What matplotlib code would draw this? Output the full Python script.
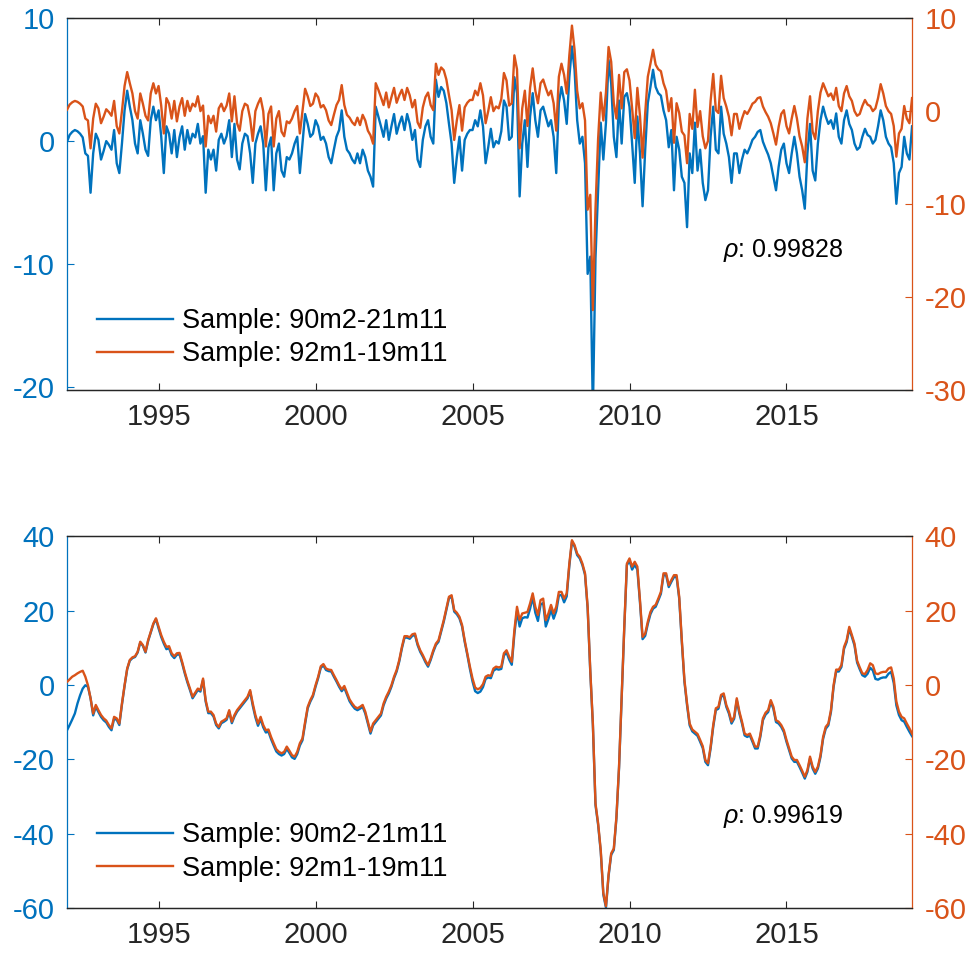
import numpy as np
import matplotlib
matplotlib.use("Agg")
import matplotlib.pyplot as plt

plt.rcParams["font.family"] = ["Liberation Sans", "DejaVu Sans"]
plt.rcParams["mathtext.fontset"] = "custom"
plt.rcParams["mathtext.it"] = "Liberation Sans:italic"
plt.rcParams["mathtext.rm"] = "Liberation Sans"
plt.rcParams["axes.unicode_minus"] = False

BLUE = "#0072BD"
ORANGE = "#D95319"
DARK = "#262626"

# monthly, 1992m2 .. 2019m1
dates = 1992 + np.arange(1, 325) / 12

label_a = "Sample: 90m2-21m11"
label_b = "Sample: 92m1-19m11"
rho_top = 0.99828
rho_bottom = 0.99619

# top panel, blue (left axis)
top_a = [
    -0.05, 0.5, 0.75, 0.9, 0.8, 0.6, 0.3, -1.0, -1.2, -4.2, -1.0, 0.6,
    0.1, -1.5, -0.8, 0.0, -0.3, -0.7, 0.9, -1.8, -2.6, -0.2, 2.5, 4.1,
    2.8, 1.7, -0.2, -1.0, 1.7, 0.6, -0.7, -1.2, 1.7, 2.8, 1.7, 2.5,
    0.4, -2.6, 1.2, 0.6, -1.0, 0.9, -1.3, 0.3, 1.2, -0.7, 0.9, -0.2,
    0.6, 0.3, 1.4, -0.2, 0.4, -4.2, -0.7, -1.5, -0.7, -2.4, 0.1, 0.6,
    -0.2, 0.4, 1.7, -1.3, 1.4, -1.5, -2.3, -0.2, 0.6, 0.4, -1.0, -3.4,
    -0.2, 0.6, 1.2, -0.2, -4.0, -0.5, 0.3, -4.0, -1.0, -0.2, -2.4, -2.9,
    -1.3, -1.5, -1.0, -0.2, 0.35, -2.6, -0.2, 2.2, 1.4, 0.35, 0.6, 1.7,
    1.2, 0.1, 0.35, -0.2, -1.3, -1.8, -0.7, 0.35, 0.9, 2.5, 0.35, -0.7,
    -1.0, -1.5, -1.8, -1.0, -1.8, -0.7, -1.3, -2.4, -2.9, -3.7, 2.8, 2.0,
    1.2, 0.35, 1.7, 0.1, 1.2, 2.2, 0.6, 1.4, 2.0, 0.9, 2.2, 1.4,
    0.1, 0.9, -1.5, -2.1, 0.1, 1.2, 1.7, 0.35, -0.2, 5.0, 3.6, 4.4,
    4.1, 3.1, 1.4, -0.2, -3.4, -1.3, 0.35, -2.4, 0.1, 0.6, 0.9, 0.9,
    1.7, 1.2, 2.5, 1.2, -1.8, -0.5, 1.0, -0.5, 0.0, -0.2, 0.8, 3.3,
    2.8, 0.1, 0.35, 5.2, 3.9, -4.5, -0.2, 1.7, -2.1, 2.0, 3.9, 1.7,
    0.35, 2.5, 2.8, 2.0, 1.2, 1.7, 0.35, -2.6, 3.1, 4.4, 3.3, 1.4,
    5.2, 7.7, 5.8, 1.7, -0.2, 0.35, -1.8, -10.8, -9.4, -22.0, -9.5, -4.0,
    1.5, -1.5, 1.5, 6.6, 4.7, 0.35, -1.3, 3.3, -0.2, 3.6, 3.9, 2.8,
    -0.2, -3.4, 2.0, -1.0, -5.3, -0.7, 3.1, 4.4, 5.8, 4.4, 3.9, 3.7,
    2.5, 1.7, -0.5, 0.9, -4.0, 0.35, -0.7, -2.9, -3.4, -7.0, -1.0, -2.6,
    1.5, -2.4, -0.7, -3.4, -4.8, -4.0, 0.35, 2.8, -0.7, -1.0, 2.8, 0.6,
    -0.2, -1.3, -3.4, -1.0, -1.0, -2.6, -1.5, -0.7, -1.0, -0.5, 0.1, 0.35,
    0.75, 0.9, -0.05, -0.6, -1.1, -1.8, -2.9, -4.0, -2.1, -0.7, -0.2, -1.8,
    -2.6, -1.0, 0.35, -1.0, -2.9, -4.0, -5.5, -1.0, 1.4, -2.4, -3.2, -0.2,
    1.7, 2.8, 2.0, 1.4, 1.7, 1.0, 2.25, 0.35, -0.2, 1.7, 2.5, 1.4,
    0.9, -0.2, -0.7, -0.5, 0.35, 1.0, 0.5, 0.35, -0.2, 0.1, 1.2, 2.5,
    1.7, 0.35, -0.2, -0.5, -1.8, -5.1, -2.6, -2.1, 0.35, -1.0, -1.5, 1.2,
]

# top panel, orange (right axis)
top_b = [
    0.15, 0.7, 0.95, 1.1, 1.0, 0.8, 0.5, -0.8, -1.0, -4.0, -0.8, 0.8,
    0.3, -1.3, -0.6, 0.2, -0.1, -0.5, 1.1, -1.6, -2.4, 0.0, 2.7, 4.2,
    3.0, 1.9, 0.0, -0.8, 1.9, 0.8, -0.5, -1.0, 1.9, 3.0, 1.9, 2.7,
    0.6, -2.4, 1.4, 0.8, -0.8, 1.1, -1.1, 0.5, 1.4, -0.5, 1.1, 0.0,
    0.8, 0.5, 1.6, 0.0, 0.6, -3.8, -0.5, -1.3, -0.5, -2.2, 0.3, 0.8,
    0.0, 0.6, 1.9, -1.1, 1.6, -1.3, -2.1, 0.0, 0.8, 0.6, -0.8, -3.2,
    0.0, 0.8, 1.4, 0.0, -3.8, -0.3, 0.5, -3.8, -0.8, 0.0, -2.2, -2.7,
    -1.1, -1.3, -0.8, 0.0, 0.55, -2.4, 0.0, 2.4, 1.6, 0.55, 0.8, 1.9,
    1.5, 0.4, 0.65, 0.1, -1.0, -1.5, -0.4, 0.65, 1.2, 2.8, 0.65, -0.4,
    -0.7, -1.2, -1.5, -0.7, -1.5, -0.4, -1.0, -2.1, -2.6, -3.5, 3.0, 2.3,
    1.5, 0.65, 2.0, 0.4, 1.5, 2.5, 0.9, 1.7, 2.3, 1.2, 2.5, 1.7,
    0.4, 1.2, -1.2, -1.8, 0.4, 1.5, 2.0, 0.65, 0.1, 5.1, 3.9, 4.7,
    4.4, 3.4, 1.7, 0.1, -3.1, -1.0, 0.65, -2.1, 0.4, 0.9, 1.2, 1.2,
    2.2, 1.7, 3.0, 1.7, -1.3, 0.0, 1.5, 0.0, 0.5, 0.3, 1.3, 4.1,
    3.3, 0.6, 0.85, 6.0, 4.5, -4.0, 0.3, 2.2, -1.6, 2.5, 4.6, 2.2,
    0.85, 3.0, 3.4, 2.5, 1.7, 2.2, 0.85, -2.1, 3.7, 5.1, 3.9, 1.9,
    6.0, 9.2, 6.6, 2.2, 0.3, 0.85, -1.0, -10.6, -9.0, -21.4, -10.5, -3.0,
    2.0, -1.0, 2.0, 6.9, 5.3, 0.85, -0.8, 3.9, 0.3, 4.2, 4.5, 3.3,
    0.3, -2.9, 2.5, -0.5, -5.0, -0.2, 3.7, 5.1, 6.6, 5.0, 4.5, 4.3,
    3.0, 2.2, 0.0, 1.4, -3.4, 0.85, -0.2, -2.2, -2.6, -5.6, -0.3, -1.9,
    2.3, -1.7, 0.0, -2.7, -4.0, -3.2, 1.1, 4.0, 0.1, -0.2, 3.8, 1.4,
    0.5, -0.6, -2.6, -0.3, -0.3, -1.9, -0.8, 0.0, -0.3, 0.2, 0.8, 1.0,
    1.4, 1.5, 0.5, -0.1, -0.6, -1.3, -2.4, -3.6, -1.7, -0.3, 0.1, -1.6,
    -2.4, -0.8, 0.55, -0.8, -2.7, -3.8, -5.5, -0.8, 1.6, -2.2, -3.0, 0.0,
    2.0, 3.0, 2.3, 1.6, 1.9, 1.2, 2.5, 0.55, 0.0, 1.9, 2.7, 1.6,
    1.1, 0.0, -0.5, -0.3, 0.55, 1.2, 0.7, 0.55, 0.0, 0.3, 1.4, 2.9,
    1.9, 0.55, 0.0, -0.3, -1.6, -4.9, -2.4, -1.9, 0.55, -0.8, -1.3, 1.4,
]

# bottom panel, blue (left axis)
bottom_a = [
    -12.2, -10.8, -9.3, -7.7, -5.0, -2.8, -1.0, -0.1, -0.5, -3.6, -8.2, -5.9,
    -7.3, -8.6, -9.5, -10.1, -11.3, -12.2, -9.1, -9.4, -10.8, -5.3, -0.3, 4.2,
    6.5, 7.2, 7.5, 8.7, 11.4, 10.5, 8.7, 11.8, 14.1, 16.3, 17.7, 15.2,
    12.9, 11.1, 9.6, 9.9, 8.0, 7.2, 8.1, 8.2, 5.8, 3.1, 0.7, -1.4,
    -3.6, -2.5, -1.4, -1.8, 1.3, -4.5, -7.6, -7.6, -8.5, -10.8, -11.7, -10.3,
    -9.9, -9.4, -7.2, -10.3, -8.5, -7.2, -6.3, -5.4, -4.5, -3.6, -1.8, -5.6,
    -8.7, -11.0, -9.2, -11.4, -12.8, -12.6, -14.6, -16.3, -17.9, -18.6, -19.0, -18.6,
    -17.2, -18.3, -19.5, -19.9, -18.6, -16.3, -14.9, -10.5, -6.3, -4.5, -3.1, -0.5,
    1.8, 4.6, 5.2, 4.0, 3.7, 3.6, 2.2, 0.9, -0.5, -1.7, -0.8, -2.6,
    -4.4, -5.5, -6.4, -6.8, -6.4, -5.9, -7.7, -10.4, -13.1, -10.9, -10.0, -9.1,
    -8.2, -5.5, -3.7, -2.3, -0.5, 1.8, 3.6, 6.3, 9.8, 12.7, 12.7, 12.4,
    13.2, 13.4, 10.7, 8.9, 7.6, 6.1, 4.9, 6.7, 8.9, 10.7, 11.6, 14.3,
    17.0, 20.1, 23.3, 23.7, 19.7, 19.0, 17.9, 15.7, 11.6, 8.1, 4.3, 0.9,
    -1.7, -2.2, -1.8, -0.6, 1.6, 2.0, 1.8, 3.8, 4.3, 4.1, 4.3, 7.9,
    8.7, 6.8, 5.4, 13.7, 19.8, 15.7, 17.9, 18.2, 18.1, 20.5, 23.6, 19.4,
    17.2, 21.6, 22.0, 15.7, 17.7, 20.2, 17.8, 19.8, 24.0, 24.2, 22.2, 23.8,
    32.0, 38.5, 37.2, 34.9, 34.0, 32.2, 29.6, 20.6, 3.6, -10.8, -32.3, -37.6,
    -44.8, -56.4, -59.9, -51.4, -45.7, -44.4, -35.9, -22.4, -3.6, 15.2, 32.2, 33.4,
    31.0, 32.3, 31.0, 22.2, 12.3, 13.2, 16.4, 19.0, 20.5, 21.0, 22.7, 24.5,
    29.5, 29.5, 26.3, 27.7, 29.0, 29.0, 23.2, 11.5, 0.8, -5.5, -10.9, -12.5,
    -13.1, -13.7, -15.3, -17.0, -20.7, -21.6, -17.1, -11.3, -6.8, -6.4, -3.2, -2.8,
    -5.9, -7.7, -10.4, -9.1, -4.1, -7.7, -10.4, -13.6, -14.0, -13.6, -15.3, -17.1,
    -17.1, -14.0, -9.5, -8.0, -7.3, -4.6, -6.4, -10.0, -10.4, -11.3, -12.7, -15.3,
    -17.6, -19.8, -20.7, -20.7, -22.1, -23.6, -25.2, -23.4, -19.8, -22.5, -23.9, -22.5,
    -19.4, -14.5, -11.8, -10.9, -7.3, -0.6, 3.6, 3.6, 4.8, 9.7, 11.5, 15.1,
    12.9, 10.6, 6.0, 4.2, 2.6, 2.2, 3.0, 4.6, 3.9, 1.6, 1.4, 1.8,
    2.0, 2.0, 3.0, 3.5, 0.5, -5.5, -8.1, -9.5, -9.9, -11.3, -12.6, -13.8,
]

# bottom panel, orange (right axis)
bottom_b = [
    0.8, 1.5, 2.2, 2.6, 3.1, 3.5, 3.8, 2.2, -0.1, -3.6, -7.7, -5.4,
    -6.8, -8.1, -9.0, -9.6, -10.8, -11.7, -8.6, -9.0, -10.4, -5.0, -0.1, 4.4,
    6.7, 7.4, 7.7, 8.9, 11.6, 10.7, 8.9, 12.0, 14.3, 16.5, 17.9, 15.6,
    13.4, 11.6, 10.2, 10.4, 8.5, 7.7, 8.5, 8.6, 6.2, 3.5, 1.1, -1.0,
    -3.2, -2.1, -1.0, -1.4, 1.7, -4.1, -7.2, -7.2, -8.1, -10.4, -11.3, -9.9,
    -9.5, -9.0, -6.8, -9.9, -8.1, -6.8, -5.9, -5.0, -4.1, -3.2, -1.4, -5.0,
    -8.1, -10.4, -8.6, -10.8, -12.2, -12.0, -14.0, -15.7, -17.3, -18.0, -18.4, -18.0,
    -16.6, -17.7, -18.9, -19.3, -18.0, -15.7, -14.4, -10.0, -5.9, -4.1, -2.7, -0.1,
    2.2, 5.0, 5.6, 4.4, 4.1, 4.0, 2.6, 1.3, -0.1, -1.2, -0.3, -2.1,
    -3.9, -5.0, -5.9, -6.3, -5.9, -5.4, -7.2, -9.9, -12.6, -10.4, -9.5, -8.6,
    -7.7, -5.0, -3.2, -1.8, -0.1, 2.2, 4.0, 6.7, 10.2, 13.1, 13.1, 12.8,
    13.6, 13.8, 11.1, 9.3, 8.0, 6.5, 5.3, 7.1, 9.3, 11.1, 12.0, 14.7,
    17.4, 20.5, 23.7, 24.1, 20.1, 19.4, 18.3, 16.1, 12.0, 8.5, 4.9, 1.7,
    -0.7, -1.2, -0.8, 0.2, 2.2, 2.6, 2.4, 4.4, 4.9, 4.7, 4.9, 8.5,
    9.3, 7.6, 6.2, 14.7, 21.0, 17.4, 19.2, 19.4, 19.6, 21.9, 24.6, 21.0,
    18.8, 22.8, 23.2, 17.4, 19.2, 21.5, 19.2, 21.0, 25.0, 25.0, 23.2, 24.6,
    32.6, 38.9, 37.6, 35.3, 34.4, 32.6, 30.0, 21.0, 4.0, -10.4, -31.9, -37.2,
    -44.4, -56.0, -59.5, -51.0, -45.3, -44.0, -35.5, -22.0, -3.2, 15.6, 32.6, 34.0,
    31.8, 33.1, 31.8, 22.8, 12.9, 13.8, 17.0, 19.6, 21.0, 21.5, 23.2, 25.0,
    30.0, 30.0, 26.8, 28.2, 29.5, 29.5, 23.7, 12.0, 1.3, -5.0, -10.4, -12.0,
    -12.6, -13.2, -14.8, -16.5, -20.2, -21.1, -16.6, -10.8, -6.3, -5.9, -2.7, -2.3,
    -5.4, -7.2, -9.9, -8.6, -3.6, -7.2, -9.9, -13.1, -13.5, -13.1, -14.8, -16.6,
    -16.6, -13.5, -9.0, -7.5, -6.8, -4.1, -5.9, -9.5, -9.9, -10.8, -12.2, -14.8,
    -17.1, -19.3, -20.2, -20.2, -21.6, -23.1, -24.7, -22.9, -19.3, -22.0, -23.4, -22.0,
    -18.9, -14.0, -11.3, -10.4, -6.8, -0.1, 4.1, 4.1, 5.3, 10.2, 12.0, 15.6,
    13.4, 11.1, 6.5, 4.7, 3.1, 2.9, 4.0, 5.8, 5.3, 3.1, 2.9, 3.3,
    3.5, 3.5, 4.4, 4.7, 1.7, -4.5, -7.2, -8.6, -9.0, -10.4, -11.7, -13.1,
]

year_ticks = [1995, 2000, 2005, 2010, 2015]


def panel(ax, ya, yb, lim_a, lim_b, ticks_a, ticks_b, rho, leg_y, rho_y):
    la, = ax.plot(dates, ya, color=BLUE, lw=1.7)
    ax2 = ax.twinx()
    lb, = ax2.plot(dates, yb, color=ORANGE, lw=1.7)

    ax.set_xlim(dates[0], dates[-1])
    ax.set_ylim(*lim_a)
    ax2.set_ylim(*lim_b)
    ax.set_xticks(year_ticks)
    ax.set_yticks(ticks_a)
    ax2.set_yticks(ticks_b)

    ax.tick_params(axis="x", direction="in", length=5, top=True,
                   colors=DARK, labelsize=21, pad=9)
    ax.tick_params(axis="y", direction="in", length=5, colors=BLUE,
                   labelsize=21, pad=9)
    ax2.tick_params(axis="y", direction="in", length=5, colors=ORANGE,
                    labelsize=21, pad=9)

    for a in (ax, ax2):
        a.spines["top"].set_color(DARK)
        a.spines["bottom"].set_color(DARK)
        for s in a.spines.values():
            s.set_linewidth(0.9)
    ax.spines["left"].set_color(BLUE)
    ax.spines["right"].set_visible(False)
    ax2.spines["left"].set_visible(False)
    ax2.spines["right"].set_color(ORANGE)

    ax2.legend([la, lb], [label_a, label_b], loc="upper left",
               bbox_to_anchor=(0.0355, leg_y), frameon=False, fontsize=19.5,
               handlelength=2.8, handletextpad=0.35, borderaxespad=0,
               borderpad=0, labelspacing=0.26)
    ax2.text(0.776, rho_y, r"$\rho$: " + f"{rho:.5f}", transform=ax2.transAxes,
             fontsize=18, ha="left", va="center", color="black")


fig = plt.figure(figsize=(9.74, 9.56), dpi=100)
ax_top = fig.add_axes([0.0688, 0.592, 0.8676, 0.389])
ax_bot = fig.add_axes([0.0688, 0.0502, 0.8676, 0.389])

panel(ax_top, top_a, top_b, (-20.25, 10), (-30, 10),
      [-20, -10, 0, 10], [-30, -20, -10, 0, 10], rho_top, 0.22, 0.376)
panel(ax_bot, bottom_a, bottom_b, (-60, 40), (-60, 40),
      [-60, -40, -20, 0, 20, 40], [-60, -40, -20, 0, 20, 40], rho_bottom,
      0.23, 0.245)

fig.savefig("out.png", dpi=100)
